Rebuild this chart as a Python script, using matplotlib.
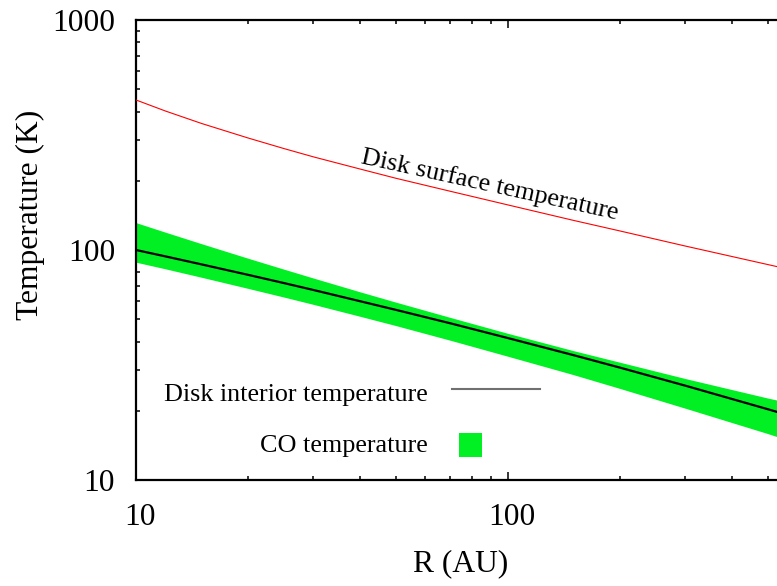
import matplotlib
matplotlib.use("Agg")
import matplotlib.pyplot as plt
from matplotlib.lines import Line2D
from matplotlib.patches import Rectangle
from matplotlib.ticker import FixedLocator, FixedFormatter, NullFormatter
import matplotlib.transforms as mtransforms

plt.rcParams['font.family'] = ['Liberation Serif', 'DejaVu Serif']

# Radius grid (AU)
radius_au = [10, 12, 15, 20, 25, 30, 40, 50, 70, 100, 150, 200, 300, 500, 1000]
# Disk surface temperature (K)
t_surface = [449, 402, 355, 307, 276, 254, 225, 205, 180, 157, 134.5, 121, 104, 86.4, 67.2]
# Disk interior (midplane) temperature (K)
t_interior = [100, 93.8, 86.6, 78.0, 71.8, 67.0, 59.9, 54.9, 48.0, 41.4, 34.9, 30.8, 25.7, 20.3, 14.6]
# CO temperature range (K)
t_co_high = [131.5, 119.5, 106.5, 92.1, 82.5, 75.5, 65.8, 59.3, 50.9, 43.4, 36.5, 32.5, 27.6, 22.7, 17.8]
t_co_low = [88.5, 82.8, 76.1, 68.1, 62.4, 58.0, 51.5, 46.9, 40.5, 34.5, 28.7, 25.0, 20.5, 15.9, 11.0]

x_major = [10, 100, 1000]
x_major_labels = ["10", "100", ""]
x_minor = [20, 30, 40, 50, 60, 70, 80, 90, 200, 300, 400, 500, 600, 700, 800, 900]
y_major = [10, 100, 1000]
y_major_labels = ["10", "100", "1000"]
y_minor = [20, 30, 40, 50, 60, 70, 80, 90, 200, 300, 400, 500, 600, 700, 800, 900]

CO_GREEN = '#00f024'

fig = plt.figure(figsize=(7.77, 5.86), dpi=100)
W, H = 777, 586
ax = fig.add_axes([136 / W, (H - 480) / H, 744 / W, 460 / H])
ax.set_xscale('log')
ax.set_yscale('log')
ax.set_xlim(10, 1000)
ax.set_ylim(10, 1000)

ax.fill_between(radius_au, t_co_low, t_co_high, color=CO_GREEN, linewidth=0, zorder=2)
ax.plot(radius_au, t_interior, color='black', linewidth=1.6, zorder=3)
ax.plot(radius_au, t_surface, color='#ff0000', linewidth=0.8, zorder=3)

# Axes styling
for sp in ax.spines.values():
    sp.set_linewidth(1.6)
ax.xaxis.set_major_locator(FixedLocator(x_major))
ax.xaxis.set_major_formatter(FixedFormatter(x_major_labels))
ax.xaxis.set_minor_locator(FixedLocator(x_minor))
ax.xaxis.set_minor_formatter(NullFormatter())
ax.yaxis.set_major_locator(FixedLocator(y_major))
ax.yaxis.set_major_formatter(FixedFormatter(y_major_labels))
ax.yaxis.set_minor_locator(FixedLocator(y_minor))
ax.yaxis.set_minor_formatter(NullFormatter())
ax.tick_params(which='both', direction='in', top=True, right=True, width=1.1)
ax.tick_params(which='major', length=5.5)
ax.tick_params(which='minor', length=3)
ax.tick_params(axis='x', which='major', labelsize=22.7, pad=16.5)
ax.tick_params(axis='y', which='major', labelsize=22.7, pad=15)

shift = mtransforms.ScaledTranslation(4 / 100, 0, fig.dpi_scale_trans)
for lbl in ax.get_xticklabels():
    lbl.set_transform(lbl.get_transform() + shift)

# Axis titles
fig.text(461 / W, 1 - 564 / H, "R (AU)", ha='center', va='center', fontsize=22.7)
fig.text(30 / W, 1 - 215 / H, "Temperature (K)", ha='center', va='center',
         rotation=90, fontsize=22.7)

# Curve annotation
ax.text(88.6, 180.5, "Disk surface temperature", rotation=-12.4,
        rotation_mode='anchor', ha='center', va='baseline', fontsize=18.8)

# Key
def ax_xy(px, py):
    return (px - 136) / 744, (480 - py) / 460

tx, ty = ax_xy(428, 400.7)
ax.text(tx, ty, "Disk interior temperature", transform=ax.transAxes,
        ha='right', va='baseline', fontsize=18.8)
x0, y0 = ax_xy(452, 389)
x1, _ = ax_xy(540, 389)
ax.add_line(Line2D([x0, x1], [y0, y0], transform=ax.transAxes,
                   color='#707070', linewidth=1.5))
tx, ty = ax_xy(428, 451.7)
ax.text(tx, ty, "CO temperature", transform=ax.transAxes,
        ha='right', va='baseline', fontsize=18.8)
sx, sy = ax_xy(459, 456.7)
ax.add_patch(Rectangle((sx, sy), 23 / 744, 24 / 460, transform=ax.transAxes,
                       facecolor=CO_GREEN, edgecolor='none'))

fig.savefig("out.png", dpi=100)
